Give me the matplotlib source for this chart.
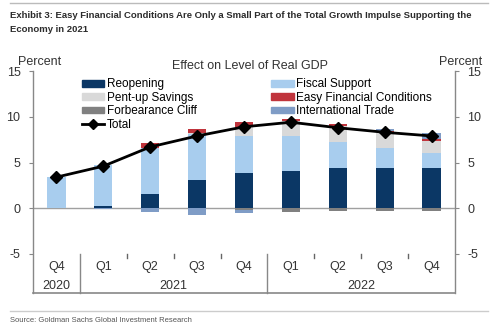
import matplotlib
matplotlib.use("Agg")
import matplotlib.pyplot as plt
import numpy as np
from matplotlib.patches import Patch
from matplotlib.lines import Line2D

quarters = ["Q4", "Q1", "Q2", "Q3", "Q4", "Q1", "Q2", "Q3", "Q4"]
years = ["2020", "2021", "2022"]
reopening = [0.0, 0.3, 1.6, 3.1, 3.8, 4.1, 4.4, 4.4, 4.4]
fiscal = [3.4, 4.4, 5.0, 5.0, 4.1, 3.8, 2.8, 2.2, 1.6]
pentup = [0.0, 0.0, 0.0, 0.1, 1.0, 1.6, 1.8, 1.7, 1.4]
easyfin = [0.0, 0.0, 0.5, 0.5, 0.5, 0.3, 0.2, 0.1, 0.2]
forbearance = [0.0, 0.0, 0.0, 0.0, -0.15, -0.4, -0.35, -0.35, -0.35]
trade = [0.0, -0.1, -0.4, -0.75, -0.4, 0.0, 0.0, 0.3, 0.6]
total = [3.4, 4.6, 6.7, 7.9, 8.9, 9.4, 8.8, 8.3, 7.9]

series = [
    ("Reopening", reopening, "#0b3765"),
    ("Fiscal Support", fiscal, "#a8cdee"),
    ("Pent-up Savings", pentup, "#d9d9d9"),
    ("Easy Financial Conditions", easyfin, "#c0343c"),
    ("Forbearance Cliff", forbearance, "#808080"),
    ("International Trade", trade, "#7f9cc6"),
]

plt.rcParams['font.family'] = ['Liberation Sans', 'DejaVu Sans']
plt.rcParams['axes.unicode_minus'] = False

fig = plt.figure(figsize=(5, 3.28), dpi=100)
ax = fig.add_axes([33 / 500, 1 - 254 / 328, 422 / 500, 183 / 328])

x = np.arange(len(quarters))
pos = np.zeros(len(x))
neg = np.zeros(len(x))
for name, vals, col in series:
    v = np.array(vals)
    base = np.where(v >= 0, pos, neg)
    ax.bar(x, v, 0.39, bottom=base, color=col, zorder=2)
    pos = pos + np.where(v >= 0, v, 0)
    neg = neg + np.where(v < 0, v, 0)

ax.plot(x, total, color="black", lw=2, marker="D", ms=6.5, zorder=4)
ax.axhline(0, color="#a0a0a0", lw=1, zorder=1)

ax.set_xlim(-0.5, 8.5)
ax.set_ylim(-5, 15)
ax.set_yticks([-5, 0, 5, 10, 15])
ax.set_xticks([])
for s in ax.spines.values():
    s.set_visible(False)
ax.tick_params(axis="y", which="both", left=True, right=True, labelleft=True,
               labelright=True, length=3, color="#888888", labelsize=9,
               labelcolor="#333333", pad=6)

# axis frame and category box below the plot
gc = "#888888"
bot = -0.213
ax.plot([0, 0], [1, bot], transform=ax.transAxes, color=gc, lw=1, clip_on=False)
ax.plot([1, 1], [1, bot], transform=ax.transAxes, color=gc, lw=1, clip_on=False)
ax.plot([0, 1], [bot, bot], transform=ax.transAxes, color=gc, lw=1.2, clip_on=False)
trans = ax.get_xaxis_transform()
for xs in [0.5, 4.5]:
    ax.plot([xs, xs], [0, bot], transform=trans, color=gc, lw=1, clip_on=False)
for xs in [1.5, 2.5, 3.5, 5.5, 6.5, 7.5]:
    ax.plot([xs, xs], [0, -0.02], transform=trans, color="#666666", lw=1, clip_on=False)
for i, q in enumerate(quarters):
    ax.text(i, -0.072, q, transform=trans, ha="center", va="center",
            fontsize=9, color="#333333")
for xc, yr in zip([0, 2.5, 6.5], years):
    ax.text(xc, -0.175, yr, transform=trans, ha="center", va="center",
            fontsize=9, color="#333333")

handles = [Patch(color=c) for _, _, c in series]
labels = [n for n, _, _ in series]
line_h = Line2D([], [], color="black", lw=2, marker="D", ms=5)
order_h = [handles[0], handles[2], handles[4], line_h, handles[1], handles[3], handles[5]]
order_l = [labels[0], labels[2], labels[4], "Total", labels[1], labels[3], labels[5]]
ax.legend(order_h, order_l, ncol=2, loc="upper left", bbox_to_anchor=(0.105, 0.985),
          frameon=False, fontsize=8.5, handlelength=1.9, handleheight=0.5,
          handletextpad=0.2, labelspacing=0.12, columnspacing=6.3, borderaxespad=0)

fig.text(18 / 500, 1 - 62 / 328, "Percent", fontsize=9, color="#333333", va="center")
fig.text(482 / 500, 1 - 62 / 328, "Percent", fontsize=9, color="#333333", va="center", ha="right")
fig.text(250 / 500, 1 - 66 / 328, "Effect on Level of Real GDP", fontsize=9,
         color="#333333", va="center", ha="center")

fig.text(10 / 500, 1 - 15 / 328, "Exhibit 3: Easy Financial Conditions Are Only a Small Part of the Total Growth Impulse Supporting the",
         fontsize=6.8, fontweight="bold", color="#2b2b2b", va="center")
fig.text(10 / 500, 1 - 30 / 328, "Economy in 2021", fontsize=6.8, fontweight="bold",
         color="#2b2b2b", va="center")
fig.add_artist(Line2D([10 / 500, 488 / 500], [1 - 3 / 328, 1 - 3 / 328], color="#bbbbbb", lw=1))
fig.add_artist(Line2D([10 / 500, 488 / 500], [1 - 311 / 328, 1 - 311 / 328], color="#cccccc", lw=1))
fig.text(10 / 500, 1 - 320 / 328, "Source: Goldman Sachs Global Investment Research",
         fontsize=5.5, color="#555555", va="center")

fig.savefig("out.png", dpi=100)
